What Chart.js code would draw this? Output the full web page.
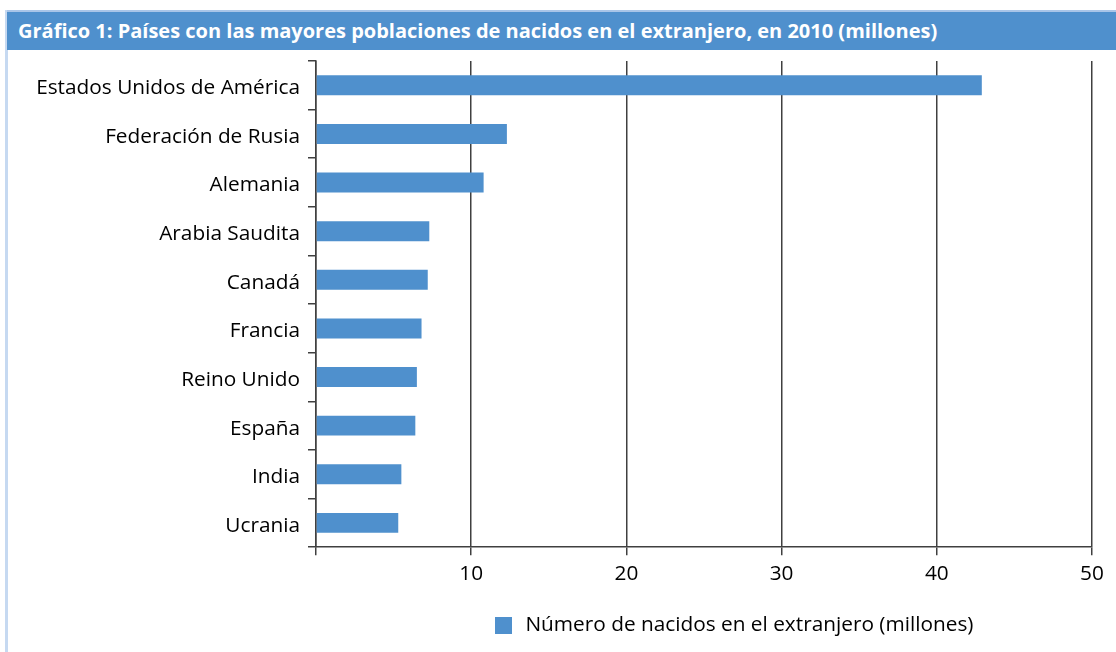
<!DOCTYPE html>
<html lang="es">
<head>
<meta charset="utf-8">
<title>Nacidos en el extranjero, 2010</title>
<script src="https://cdn.jsdelivr.net/npm/chart.js@4/dist/chart.umd.min.js"></script>
<style>
  html, body { margin: 0; padding: 0; background: #ffffff; }
  body { width: 1116px; height: 652px; position: relative; overflow: hidden; }
  .frame {
    position: absolute; left: 5px; top: 10px; width: 3px; height: 642px;
    background: #c6d9f1;
  }
  .header {
    position: absolute; left: 7px; top: 10px; width: 1109px; height: 38px;
    border-top: 2px solid #a9c5e8;
    background: #4f90cd; color: #ffffff;
    font-family: "Open Sans", sans-serif; font-weight: bold; font-size: 20px;
    line-height: 38px; padding-left: 11px; box-sizing: content-box; white-space: nowrap;
  }
  #wrap { position: absolute; left: 8px; top: 50px; width: 1108px; height: 602px; }
  #chart { display: block; }
</style>
</head>
<body>
<div class="frame"></div>
<div class="header">Gráfico 1: Países con las mayores poblaciones de nacidos en el extranjero, en 2010 (millones)</div>
<div id="wrap"><canvas id="chart" width="1108" height="602"></canvas></div>
<script>
// Países y población nacida en el extranjero (millones), 2010
const countries = [
  "Estados Unidos de América",
  "Federación de Rusia",
  "Alemania",
  "Arabia Saudita",
  "Canadá",
  "Francia",
  "Reino Unido",
  "España",
  "India",
  "Ucrania"
];
const foreignBorn = [42.9, 12.3, 10.8, 7.3, 7.2, 6.8, 6.5, 6.4, 5.5, 5.3];
const xTicks = [0, 10, 20, 30, 40, 50];
const seriesLabel = "Número de nacidos en el extranjero (millones)";

const BLUE = "#4f90cd";
const AXIS = "#404040";
const FONT = "'Open Sans', sans-serif";
const FONT_SIZE = 20.8;

// Cuadro de la leyenda dibujado como imagen para controlar su tamaño
const legendSwatch = document.createElement("canvas");
legendSwatch.width = 17;
legendSwatch.height = 17;
const sctx = legendSwatch.getContext("2d");
sctx.fillStyle = BLUE;
sctx.fillRect(0, 0, 17, 17);

// Coloca la leyenda bajo el gráfico, a la derecha del centro
const legendPlacement = {
  id: "legendPlacement",
  afterLayout(chart) {
    const lg = chart.legend;
    if (!lg) return;
    const w = lg.right - lg.left;
    const h = lg.bottom - lg.top;
    lg.left = 474;
    lg.right = lg.left + w;
    lg.top = 565.5 - FONT_SIZE / 2;
    lg.bottom = lg.top + h;
  }
};

// Sin márgenes automáticos: el área del gráfico la fija layout.padding
function noScalePadding(scale) {
  scale.paddingTop = 0;
  scale.paddingBottom = 0;
  scale.paddingLeft = 0;
  scale.paddingRight = 0;
}

new Chart(document.getElementById("chart"), {
  type: "bar",
  data: {
    labels: countries,
    datasets: [{
      label: seriesLabel,
      data: foreignBorn,
      backgroundColor: BLUE,
      borderWidth: 0,
      categoryPercentage: 1.0,
      barPercentage: 0.41,
      pointStyle: legendSwatch
    }]
  },
  plugins: [legendPlacement],
  options: {
    indexAxis: "y",
    responsive: false,
    animation: false,
    devicePixelRatio: 1,
    layout: { autoPadding: false, padding: { top: 11, right: 24, bottom: 20, left: 0 } },
    plugins: {
      title: { display: false },
      tooltip: { enabled: false },
      legend: {
        display: true,
        position: "bottom",
        align: "start",
        labels: {
          usePointStyle: true,
          pointStyleWidth: 23,
          boxHeight: 17,
          padding: 10,
          color: "#000000",
          font: { family: FONT, size: FONT_SIZE }
        }
      }
    },
    scales: {
      x: {
        type: "linear",
        position: "bottom",
        min: xTicks[0],
        max: xTicks[xTicks.length - 1],
        afterBuildTicks(scale) {
          scale.ticks = xTicks.map(v => ({ value: v }));
        },
        afterFit(scale) {
          scale.height = 44;
          noScalePadding(scale);
        },
        border: { display: true, color: AXIS, width: 1.5 },
        grid: {
          display: true,
          drawOnChartArea: true,
          drawTicks: true,
          tickLength: 8,
          color: AXIS,
          lineWidth: 1.5
        },
        ticks: {
          color: "#000000",
          padding: 6,
          font: { family: FONT, size: FONT_SIZE },
          callback: (v) => (v === 0 ? "" : String(v))
        }
      },
      y: {
        type: "category",
        afterFit(scale) {
          scale.width = 308;
          noScalePadding(scale);
        },
        border: { display: true, color: AXIS, width: 1.5 },
        grid: {
          display: true,
          offset: true,
          drawOnChartArea: false,
          drawTicks: true,
          tickLength: 8,
          color: AXIS,
          lineWidth: 1.5
        },
        ticks: {
          color: "#000000",
          padding: 8,
          labelOffset: 3,
          autoSkip: false,
          font: { family: FONT, size: FONT_SIZE }
        }
      }
    }
  }
});
</script>
</body>
</html>
